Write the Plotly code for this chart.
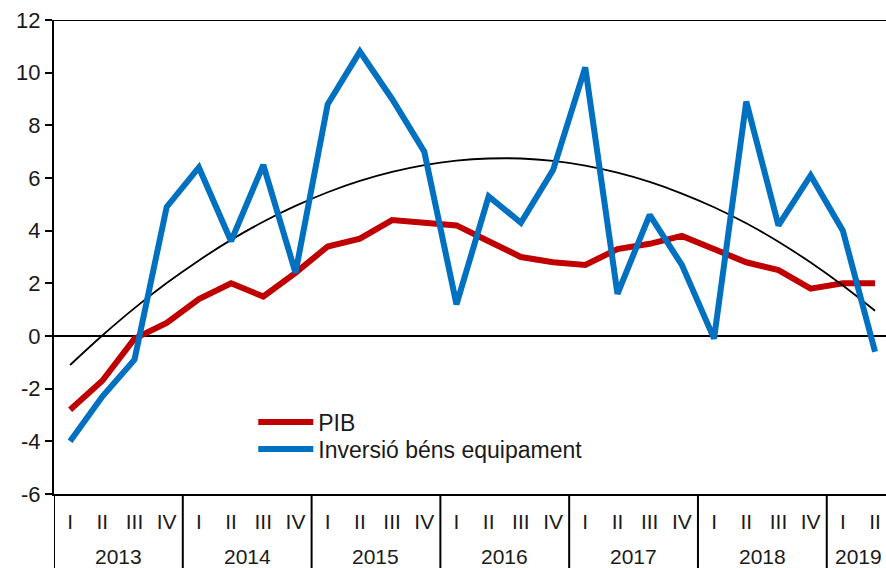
import plotly.graph_objects as go

# Trimestres 2013 I - 2019 II
anys = ["2013", "2014", "2015", "2016", "2017", "2018", "2019"]
trimestres = ["I", "II", "III", "IV"] * 6 + ["I", "II"]
idx = list(range(len(trimestres)))

pib = [-2.8, -1.7, -0.1, 0.5, 1.4, 2.0, 1.5, 2.4, 3.4, 3.7, 4.4, 4.3, 4.2,
       3.6, 3.0, 2.8, 2.7, 3.3, 3.5, 3.8, 3.3, 2.8, 2.5, 1.8, 2.0, 2.0]
inversio = [-4.0, -2.3, -0.9, 4.9, 6.4, 3.6, 6.5, 2.4, 8.8, 10.8, 9.0, 7.0, 1.2,
            5.3, 4.3, 6.3, 10.2, 1.6, 4.6, 2.7, -0.1, 8.9, 4.2, 6.1, 4.0, -0.6]
tendencia = [-1.10, 0.02, 1.06, 2.01, 2.87, 3.65, 4.34, 4.94, 5.46, 5.89,
             6.23, 6.49, 6.66, 6.74, 6.74, 6.65, 6.47, 6.20, 5.85, 5.41,
             4.89, 4.28, 3.58, 2.79, 1.92, 0.96]

# posicio central de cada any (en trimestres)
centres_any = [1.5, 5.5, 9.5, 13.5, 17.5, 21.5, 24.5]
separadors = [-0.5, 3.5, 7.5, 11.5, 15.5, 19.5, 23.5]
y_ticks = [-6, -4, -2, 0, 2, 4, 6, 8, 10, 12]

FONT = "Liberation Sans, Arial, sans-serif"

fig = go.Figure()
fig.add_trace(go.Scatter(x=idx, y=pib, mode="lines", name="PIB",
                         line=dict(color="#C00000", width=6), legend="legend"))
fig.add_trace(go.Scatter(x=idx, y=tendencia, mode="lines", showlegend=False,
                         line=dict(color="black", width=1.8, shape="spline")))
fig.add_trace(go.Scatter(x=idx, y=inversio, mode="lines",
                         name="Inversió béns equipament",
                         line=dict(color="#0070C0", width=6), legend="legend2"))

for xs in separadors:
    fig.add_shape(type="line", xref="x", yref="paper", x0=xs, x1=xs,
                  y0=0, y1=-0.2, line=dict(color="black", width=2), layer="above")
fig.add_shape(type="line", xref="paper", yref="y", x0=0, x1=1, y0=12, y1=12,
              line=dict(color="black", width=2))

for a, c in zip(anys, centres_any):
    fig.add_annotation(x=c, y=-0.131, xref="x", yref="paper", text=a,
                       showarrow=False, yanchor="middle",
                       font=dict(size=21, color="#1a1a1a", family=FONT))

leg = dict(x=0.2395, xanchor="left", yanchor="middle",
           bgcolor="rgba(0,0,0,0)", font=dict(size=23), itemwidth=55)

fig.update_layout(
    width=886, height=568,
    margin=dict(l=54, r=0, t=20, b=74),
    plot_bgcolor="white", paper_bgcolor="white",
    font=dict(family=FONT, size=21, color="#1a1a1a"),
    legend=dict(leg, y=0.152),
    legend2=dict(leg, y=0.095),
    xaxis=dict(range=[-0.5, 25.34], tickvals=idx, ticktext=trimestres,
               showgrid=False, zeroline=False, showline=True,
               linecolor="black", linewidth=2, ticks="",
               ticklabelstandoff=8, tickfont=dict(size=21)),
    yaxis=dict(range=[-6, 12], tickvals=y_ticks,
               ticktext=[str(v) for v in y_ticks],
               showgrid=False, zeroline=True,
               zerolinecolor="black", zerolinewidth=2, showline=True,
               linecolor="black", linewidth=2, ticks="outside", ticklen=7,
               tickwidth=2, tickcolor="black", tickfont=dict(size=22)),
)

fig.write_html("out.html", config={"displayModeBar": False},
               post_script="document.body.style.margin='0px';")
